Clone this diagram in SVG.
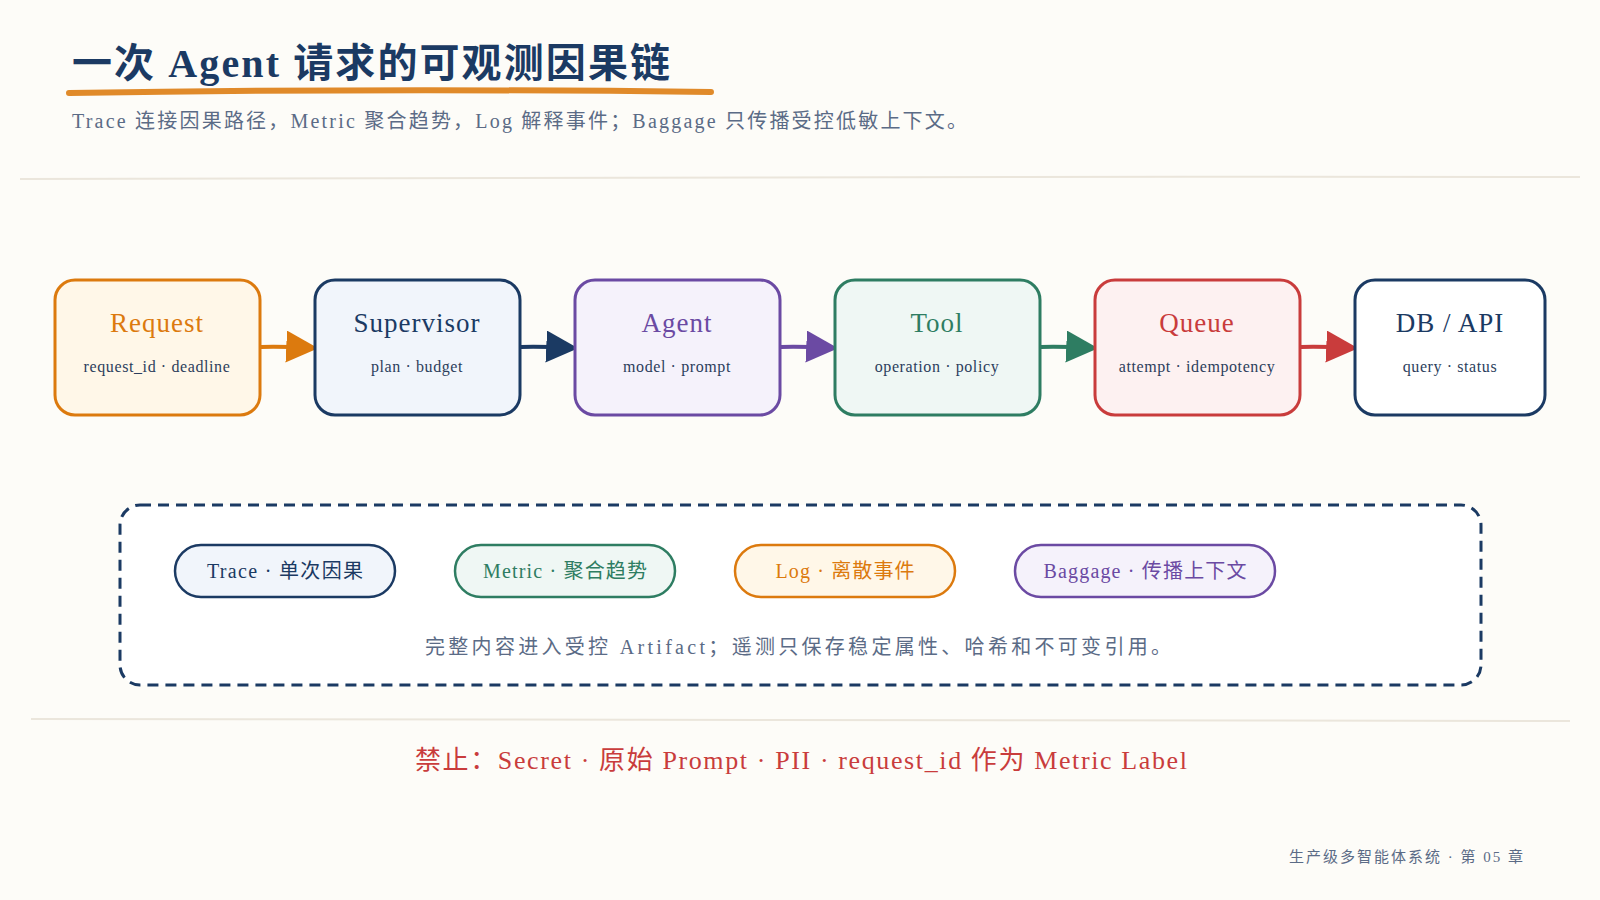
<svg xmlns="http://www.w3.org/2000/svg" width="1600" height="900" viewBox="0 0 1600 900">
  <defs>
    <style>
      .serif { font-family: "Liberation Serif", "Noto Sans CJK SC", serif; }
      .title { font-size: 40px; font-weight: bold; fill: #1b3a63; }
      .subtitle { font-size: 20px; fill: #5b6b86; }
      .node-title { font-size: 27px; text-anchor: middle; letter-spacing: 1px; }
      .node-sub { font-size: 16px; fill: #2c3e5c; text-anchor: middle; letter-spacing: 0.6px; }
      .box { stroke-width: 3; }
      .pill { stroke-width: 2.5; }
      .pill-text { font-size: 20px; text-anchor: middle; }
      .note { font-size: 20px; fill: #5b6b86; text-anchor: middle; }
      .warn { font-size: 26px; fill: #c93c3c; text-anchor: middle; }
      .footer { font-size: 15px; fill: #5b6b86; text-anchor: end; }
      .divider { stroke: #ebe6dc; stroke-width: 2; fill: none; }
      .edge { fill: none; stroke-width: 4; stroke-linecap: round; }
    </style>
    <marker id="arrow-orange" viewBox="0 0 10 10" refX="9" refY="5" markerWidth="8" markerHeight="8" orient="auto" markerUnits="strokeWidth"><path d="M0,0 L10,5 L0,10 z" fill="#dc7a0e"/></marker>
    <marker id="arrow-navy" viewBox="0 0 10 10" refX="9" refY="5" markerWidth="8" markerHeight="8" orient="auto" markerUnits="strokeWidth"><path d="M0,0 L10,5 L0,10 z" fill="#1b3a63"/></marker>
    <marker id="arrow-purple" viewBox="0 0 10 10" refX="9" refY="5" markerWidth="8" markerHeight="8" orient="auto" markerUnits="strokeWidth"><path d="M0,0 L10,5 L0,10 z" fill="#6b4aa3"/></marker>
    <marker id="arrow-green" viewBox="0 0 10 10" refX="9" refY="5" markerWidth="8" markerHeight="8" orient="auto" markerUnits="strokeWidth"><path d="M0,0 L10,5 L0,10 z" fill="#2e7d62"/></marker>
    <marker id="arrow-red" viewBox="0 0 10 10" refX="9" refY="5" markerWidth="8" markerHeight="8" orient="auto" markerUnits="strokeWidth"><path d="M0,0 L10,5 L0,10 z" fill="#c93c3c"/></marker>
  </defs>

  <rect width="1600" height="900" fill="#fdfcf8"/>

  <!-- heading -->
  <g id="heading">
    <text class="serif title" x="72" y="77" textLength="598" lengthAdjust="spacing">一次 Agent 请求的可观测因果链</text>
    <path d="M69,93 Q390,88 711,92" fill="none" stroke="#e08a2a" stroke-width="6" stroke-linecap="round"/>
    <text class="serif subtitle" x="72" y="128" textLength="895" lengthAdjust="spacing">Trace 连接因果路径，Metric 聚合趋势，Log 解释事件；Baggage 只传播受控低敏上下文。</text>
  </g>

  <path class="divider" d="M20,179 Q800,176 1580,177"/>

  <!-- connectors -->
  <g id="connectors">
    <path class="edge" stroke="#dc7a0e" marker-end="url(#arrow-orange)" d="M261,347 Q275,346 315,348"/>
    <path class="edge" stroke="#1b3a63" marker-end="url(#arrow-navy)" d="M521,347 Q535,346 575,348"/>
    <path class="edge" stroke="#6b4aa3" marker-end="url(#arrow-purple)" d="M781,347 Q795,346 835,348"/>
    <path class="edge" stroke="#2e7d62" marker-end="url(#arrow-green)" d="M1041,347 Q1055,346 1095,348"/>
    <path class="edge" stroke="#c93c3c" marker-end="url(#arrow-red)" d="M1301,347 Q1315,346 1355,348"/>
  </g>

  <!-- pipeline nodes -->
  <g id="node-request">
    <rect class="box" x="55" y="280" width="205" height="135" rx="20" fill="#fff7e8" stroke="#dc7a0e"/>
    <text class="serif node-title" x="157" y="332" fill="#dc7a0e">Request</text>
    <text class="serif node-sub" x="157" y="372">request_id · deadline</text>
  </g>
  <g id="node-supervisor">
    <rect class="box" x="315" y="280" width="205" height="135" rx="20" fill="#f1f5fb" stroke="#1b3a63"/>
    <text class="serif node-title" x="417" y="332" fill="#1b3a63">Supervisor</text>
    <text class="serif node-sub" x="417" y="372">plan · budget</text>
  </g>
  <g id="node-agent">
    <rect class="box" x="575" y="280" width="205" height="135" rx="20" fill="#f5f2fb" stroke="#6b4aa3"/>
    <text class="serif node-title" x="677" y="332" fill="#6b4aa3">Agent</text>
    <text class="serif node-sub" x="677" y="372">model · prompt</text>
  </g>
  <g id="node-tool">
    <rect class="box" x="835" y="280" width="205" height="135" rx="20" fill="#eff7f4" stroke="#2e7d62"/>
    <text class="serif node-title" x="937" y="332" fill="#2e7d62">Tool</text>
    <text class="serif node-sub" x="937" y="372">operation · policy</text>
  </g>
  <g id="node-queue">
    <rect class="box" x="1095" y="280" width="205" height="135" rx="20" fill="#fdf1f1" stroke="#c93c3c"/>
    <text class="serif node-title" x="1197" y="332" fill="#c93c3c">Queue</text>
    <text class="serif node-sub" x="1197" y="372">attempt · idempotency</text>
  </g>
  <g id="node-db-api">
    <rect class="box" x="1355" y="280" width="190" height="135" rx="20" fill="#ffffff" stroke="#1b3a63"/>
    <text class="serif node-title" x="1450" y="332" fill="#1b3a63">DB / API</text>
    <text class="serif node-sub" x="1450" y="372">query · status</text>
  </g>

  <!-- telemetry signals panel -->
  <g id="signals-panel">
    <rect x="120" y="505" width="1361" height="180" rx="20" fill="#ffffff" stroke="#1b3a63" stroke-width="3" stroke-dasharray="11 7"/>
    <g id="pill-trace">
      <rect class="pill" x="175" y="545" width="220" height="52" rx="26" fill="#f1f5fb" stroke="#1b3a63"/>
      <text class="serif pill-text" x="285" y="578" fill="#1b3a63" textLength="156" lengthAdjust="spacing">Trace · 单次因果</text>
    </g>
    <g id="pill-metric">
      <rect class="pill" x="455" y="545" width="220" height="52" rx="26" fill="#eff7f4" stroke="#2e7d62"/>
      <text class="serif pill-text" x="565" y="578" fill="#2e7d62" textLength="164" lengthAdjust="spacing">Metric · 聚合趋势</text>
    </g>
    <g id="pill-log">
      <rect class="pill" x="735" y="545" width="220" height="52" rx="26" fill="#fff7e8" stroke="#dc7a0e"/>
      <text class="serif pill-text" x="845" y="578" fill="#dc7a0e" textLength="139" lengthAdjust="spacing">Log · 离散事件</text>
    </g>
    <g id="pill-baggage">
      <rect class="pill" x="1015" y="545" width="260" height="52" rx="26" fill="#f5f2fb" stroke="#6b4aa3"/>
      <text class="serif pill-text" x="1145" y="578" fill="#6b4aa3" textLength="203" lengthAdjust="spacing">Baggage · 传播上下文</text>
    </g>
    <text class="serif note" x="798" y="654" textLength="746" lengthAdjust="spacing">完整内容进入受控 Artifact；遥测只保存稳定属性、哈希和不可变引用。</text>
  </g>

  <path class="divider" d="M31,719 Q800,717 1570,721"/>

  <text class="serif warn" x="801" y="769" textLength="772" lengthAdjust="spacing">禁止：Secret · 原始 Prompt · PII · request_id 作为 Metric Label</text>

  <text class="serif footer" x="1523" y="862" textLength="234" lengthAdjust="spacing">生产级多智能体系统 · 第 05 章</text>
</svg>
